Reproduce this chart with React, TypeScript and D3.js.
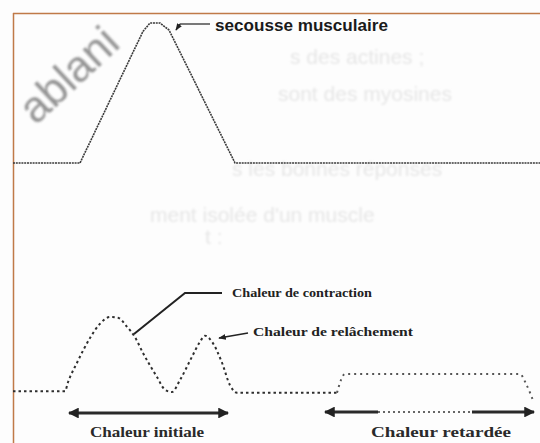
import React from "react";
import * as d3 from "d3";

// ---- data (time in arbitrary units, amplitude in % of max) ----
const twitchTime = [0, 67, 130, 137, 147, 156, 222, 527];
const twitchAmp = [0, 0, 94, 100, 100, 95, 0, 0];

const initHeatTime = [0, 52, 55, 64, 77, 87, 97, 105, 114, 122, 130, 144, 152, 159, 167, 179, 187, 192, 199, 209, 217, 224, 324];
const initHeatAmp = [1, 1, 13, 39, 72, 91, 100, 99, 87, 73, 52, 20, 3, 0, 16, 47, 67, 75, 67, 39, 9, -1, -1];

const delayedHeatTime = [324, 332, 345, 507, 513, 520];
const delayedHeatAmp = [-1, 24, 24, 24, 11, -11];

const labels = {
  twitch: "secousse musculaire",
  contraction: "Chaleur de contraction",
  relaxation: "Chaleur de relâchement",
  initial: "Chaleur initiale",
  delayed: "Chaleur retardée",
};

const ghostLines: [string, number, number][] = [
  ["s des actines ;", 290, 64],
  ["sont des myosines", 278, 101],
  ["s les bonnes réponses", 232, 176],
  ["ment isolée d'un muscle", 150, 222],
  ["t :", 205, 244],
];

const W = 540;
const H = 443;

export default function App() {
  const x = d3.scaleLinear().domain([0, 527]).range([13, 540]);
  const yTop = d3.scaleLinear().domain([0, 100]).range([163, 23]);
  const yBot = d3.scaleLinear().domain([0, 100]).range([392, 317]);

  const topLine = d3
    .line<number>()
    .x((_, i) => x(twitchTime[i]))
    .y((d) => yTop(d))
    .curve(d3.curveLinear);

  const botLine = (times: number[]) =>
    d3
      .line<number>()
      .x((_, i) => x(times[i]))
      .y((d) => yBot(d))
      .curve(d3.curveMonotoneX);

  const serif = "'Liberation Serif', 'DejaVu Serif', serif";
  const fu = { filterUnits: "userSpaceOnUse", x: -800, y: -800, width: 2400, height: 2400 } as any;

  return (
    <svg
      width={W}
      height={H}
      style={{ position: "absolute", left: 0, top: 0, background: "#fdfdfd" }}
    >
      <defs>
        <marker id="ah" viewBox="0 0 10 10" refX="9" refY="5" markerWidth="3.6" markerHeight="3.6" orient="auto-start-reverse">
          <path d="M0,0 L10,5 L0,10 z" fill="#222" />
        </marker>
        <marker id="sm" viewBox="0 0 10 10" refX="9" refY="5" markerWidth="5" markerHeight="5" orient="auto">
          <path d="M0,1 L10,5 L0,9 z" fill="#222" />
        </marker>
        <filter id="blur" {...fu}><feGaussianBlur stdDeviation="0.6" /></filter>
        <filter id="blur2" {...fu}><feGaussianBlur stdDeviation="1.3" /></filter>
      </defs>

      {/* show-through text from the back of the page */}
      <g fill="#e6e6e6" fontFamily="'Liberation Sans', sans-serif" fontSize={21} filter="url(#blur2)">
        {ghostLines.map(([t, gx, gy], i) => (
          <text key={i} x={gx} y={gy}>{t}</text>
        ))}
      </g>

      {/* frame */}
      <line x1={13} y1={13.5} x2={540} y2={13.5} stroke="#c07a48" strokeWidth={1.5} />
      <line x1={13.5} y1={13} x2={13.5} y2={443} stroke="#c07a48" strokeWidth={1.5} />

      {/* watermark */}
      <text
        x={0}
        y={0}
        transform="translate(36,126) rotate(-43)"
        fontFamily="'Liberation Sans', sans-serif"
        fontSize={44}
        fill="#7a7a7a"
        opacity={0.8}
        filter="url(#blur2)"
      >
        ablani
      </text>

      {/* muscle twitch */}
      <path
        d={topLine(twitchAmp) || ""}
        fill="none"
        stroke="#3a3a3a"
        strokeWidth={1.6}
        strokeDasharray="2 0.8"
        filter="url(#blur)"
      />
      <line x1={210} y1={24} x2={180} y2={24} stroke="#222" strokeWidth={1.2} />
      <line x1={180} y1={24} x2={176} y2={30} stroke="#222" strokeWidth={1.4} markerEnd="url(#sm)" />
      <text
        x={215}
        y={31}
        fontFamily="'Liberation Sans', sans-serif"
        fontWeight="bold"
        fontSize={16}
        fill="#1a1a1a"
        textLength={173}
        lengthAdjust="spacingAndGlyphs"
      >
        {labels.twitch}
      </text>

      {/* heat curves */}
      <path
        d={botLine(initHeatTime)(initHeatAmp) || ""}
        fill="none"
        stroke="#2e2e2e"
        strokeWidth={2}
        strokeDasharray="2.5 3"
        filter="url(#blur)"
      />
      <path
        d={botLine(delayedHeatTime)(delayedHeatAmp) || ""}
        fill="none"
        stroke="#555"
        strokeWidth={2}
        strokeDasharray="2 4"
        filter="url(#blur)"
      />

      {/* contraction label + leader */}
      <polyline points="222,293 185,293 134,334" fill="none" stroke="#222" strokeWidth={2} filter="url(#blur)" />
      <text x={232} y={297} fontFamily={serif} fontWeight="bold" fontSize={13} fill="#222" textLength={140} lengthAdjust="spacingAndGlyphs">
        {labels.contraction}
      </text>

      {/* relaxation label + leader */}
      <line x1={248} y1={333} x2={219} y2={338} stroke="#222" strokeWidth={1.5} markerEnd="url(#sm)" />
      <text x={253} y={336} fontFamily={serif} fontWeight="bold" fontSize={13} fill="#222" textLength={160} lengthAdjust="spacingAndGlyphs">
        {labels.relaxation}
      </text>

      {/* initial heat arrow */}
      <line
        x1={x(52) + 4}
        y1={413}
        x2={x(219) - 4}
        y2={413}
        stroke="#2a2a2a"
        strokeWidth={3}
        markerStart="url(#ah)"
        markerEnd="url(#ah)"
        filter="url(#blur)"
      />
      <text x={147} y={437} textAnchor="middle" fontFamily={serif} fontWeight="bold" fontSize={15} fill="#2a2a2a" textLength={114} lengthAdjust="spacingAndGlyphs">
        {labels.initial}
      </text>

      {/* delayed heat arrow */}
      <line x1={325} y1={412} x2={378} y2={412} stroke="#2a2a2a" strokeWidth={3} markerStart="url(#ah)" filter="url(#blur)" />
      <line x1={378} y1={412} x2={472} y2={412} stroke="#666" strokeWidth={2} strokeDasharray="2 3" filter="url(#blur)" />
      <line x1={472} y1={412} x2={534} y2={412} stroke="#2a2a2a" strokeWidth={3} markerEnd="url(#ah)" filter="url(#blur)" />
      <text x={441} y={437} textAnchor="middle" fontFamily={serif} fontWeight="bold" fontSize={15} fill="#2a2a2a" textLength={140} lengthAdjust="spacingAndGlyphs">
        {labels.delayed}
      </text>
    </svg>
  );
}
